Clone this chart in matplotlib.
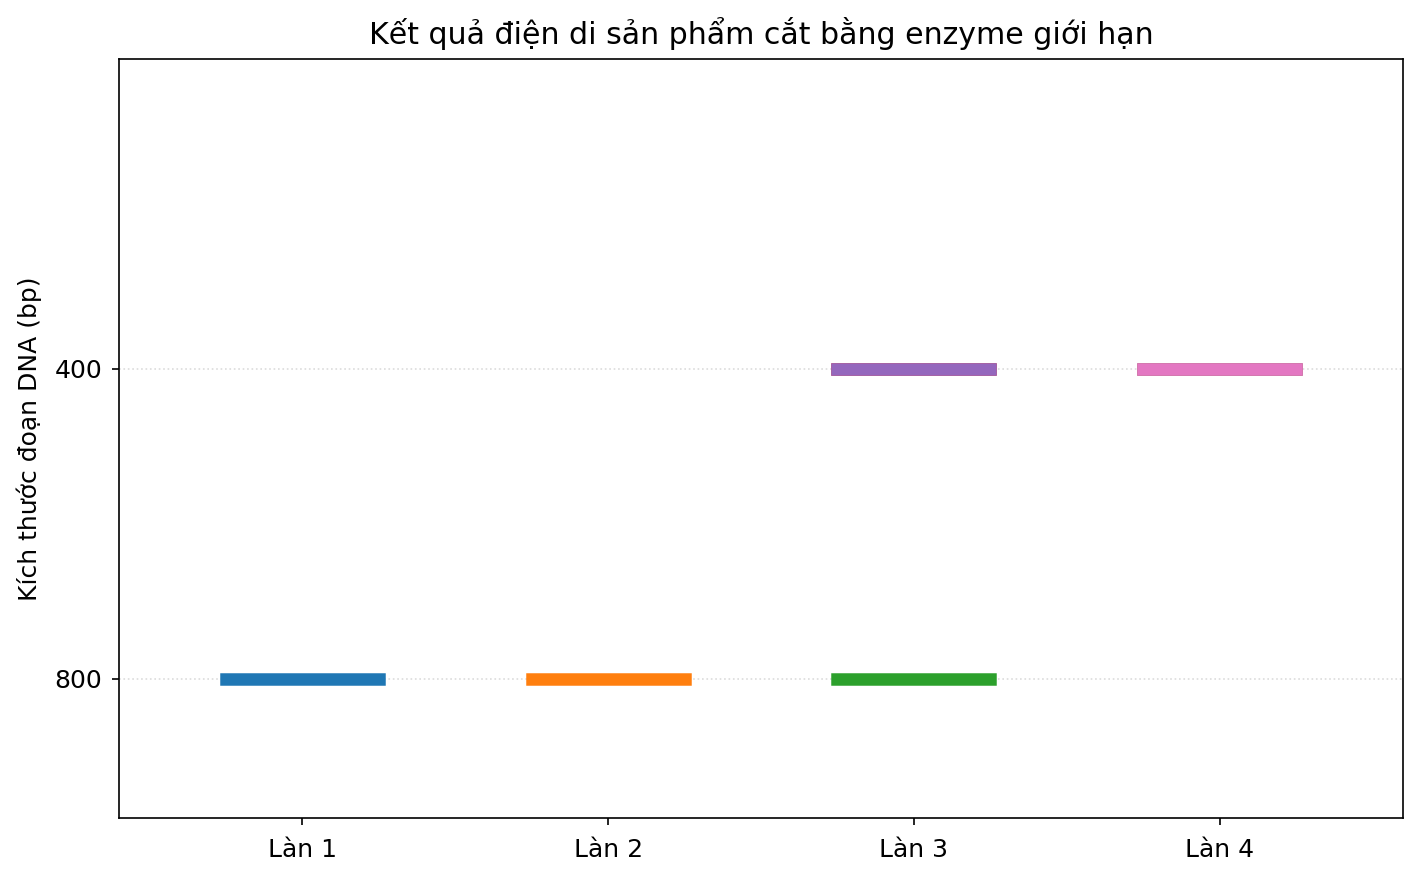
import matplotlib
matplotlib.use("Agg")
import matplotlib.pyplot as plt

# lane labels and the fragment sizes (bp) seen in each lane
lanes = ["Làn 1", "Làn 2", "Làn 3", "Làn 4"]
lane_fragments = [
    [800],
    [800],
    [800, 400, 400],
    [400, 400],
]

plt.rcParams["font.size"] = 12

fig, ax = plt.subplots(figsize=(1421 / 150, 878 / 150), dpi=150)
fig.subplots_adjust(left=119 / 1421, right=1403 / 1421, top=1 - 59 / 878, bottom=1 - 818 / 878)

for i, frags in enumerate(lane_fragments):
    x = i + 1
    for size in frags:
        ax.plot([x - 0.25, x + 0.25], [size, size], lw=6, solid_capstyle="projecting")

ax.set_xticks(range(1, len(lanes) + 1))
ax.set_xticklabels(lanes)
ax.set_xlim(0.4, len(lanes) + 0.6)

ax.set_yticks([400, 800])
ax.set_ylim(980, 0)
ax.yaxis.grid(True, linestyle=":", color="lightgray", alpha=0.8)
ax.tick_params(axis="x", pad=6)
ax.tick_params(axis="y", pad=4.5)

ax.set_ylabel("Kích thước đoạn DNA (bp)", labelpad=6)
ax.set_title("Kết quả điện di sản phẩm cắt bằng enzyme giới hạn", pad=7)

plt.savefig("out.png", dpi=150)
